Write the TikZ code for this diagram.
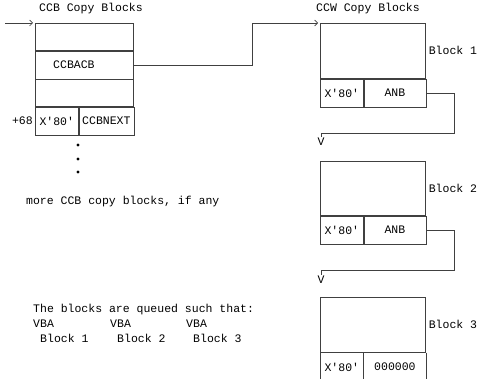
\documentclass[tikz,border=0pt]{standalone}
\usepackage{fontspec}
\setmainfont{Liberation Mono}[Ligatures=TeXOff]
\usetikzlibrary{positioning, arrows.meta}

\begin{document}
\begin{tikzpicture}[x=1pt, y=-1pt, font=\fontsize{11.5}{13}\selectfont]
\tikzstyle{cell}=[rectangle, draw=black!75, line width=0.6pt, inner sep=0pt, anchor=north west]
\tikzstyle{lbl}=[inner sep=1pt]
\tikzstyle{link}=[draw=black!75, line width=0.6pt]
\tikzstyle{tip}=[-{Straight Barb[length=3pt, width=6pt]}]
\useasboundingbox (0,0) rectangle (479,379);

% CCB copy block
\node[lbl, anchor=west] (ccbttl) at (38,9) {CCB Copy Blocks};
\node[cell, minimum width=98pt, minimum height=27pt] (ccb1) at (35,23) {};
\node[cell, minimum width=98pt, minimum height=28pt] (ccb2) at (ccb1.south west) {};
\node[cell, minimum width=98pt, minimum height=27pt] (ccb3) at (ccb2.south west) {};
\node[cell, minimum width=43pt, minimum height=28pt] (ccbx) at (ccb3.south west) {X'80'};
\node[cell, minimum width=55pt, minimum height=28pt] (ccbnext) at (ccbx.north east) {CCBNEXT};
\node[lbl, anchor=west] (acb) at ([xshift=17pt]ccb2.west) {CCBACB};
\node[lbl, anchor=east] (off) at ([xshift=-1pt]ccbx.west) {+68};

\coordinate (entry) at (5,23);
\draw[link, tip] (entry) -- ([xshift=-2pt]ccb1.north west);

\foreach \y/\n in {145/1, 159/2, 172/3}
  \fill (78,\y) circle (1.6pt) node (dot\n) {};
\node[lbl, anchor=west] (more) at (25,202) {more CCB copy blocks, if any};

% CCW copy blocks
\node[lbl, anchor=west] (ccwttl) at (315,9) {CCW Copy Blocks};

\node[cell, minimum width=105pt, minimum height=55pt] (b1up) at (320,23) {};
\node[cell, minimum width=43pt, minimum height=28pt] (b1x) at (b1up.south west) {X'80'};
\node[cell, minimum width=62pt, minimum height=28pt] (b1anb) at (b1x.north east) {ANB};
\node[lbl, anchor=west] (b1lbl) at ([xshift=2pt]b1up.east) {Block 1};
\node[lbl] (v1) at (321,142) {V};

\node[cell, minimum width=105pt, minimum height=54pt] (b2up) at (320,161) {};
\node[cell, minimum width=43pt, minimum height=28pt] (b2x) at (b2up.south west) {X'80'};
\node[cell, minimum width=62pt, minimum height=28pt] (b2anb) at (b2x.north east) {ANB};
\node[lbl, anchor=west] (b2lbl) at ([xshift=2pt]b2up.east) {Block 2};
\node[lbl] (v2) at (321,280) {V};

\node[cell, minimum width=105pt, minimum height=55pt] (b3up) at (320,297) {};
\node[cell, draw=none, minimum width=43pt, minimum height=28pt] (b3x) at (b3up.south west) {X'80'};
\node[cell, draw=none, minimum width=62pt, minimum height=28pt] (b3nul) at (b3x.north east) {000000};
\node[lbl, anchor=west] (b3lbl) at ([xshift=2pt]b3up.east) {Block 3};
\draw[link] (b3x.north west) -- (b3x.south west);
\draw[link] (b3x.north east) -- (b3x.south east);
\draw[link] (b3nul.north east) -- (b3nul.south east);

% chains
\draw[link, tip] (ccb2.east) -- ++(119,0) |- ([xshift=-2pt]b1up.north west);
\draw[link] (b1anb.east) -- ++(28,0) -- ++(0,40) -| (v1.north);
\draw[link] (b2anb.east) -- ++(28,0) -- ++(0,40) -| (v2.north);

% queue note
\node[lbl, anchor=west] (note) at (32,310) {The blocks are queued such that:};
\node[lbl, anchor=west] (vba1) at (32,324) {VBA};
\node[lbl, anchor=west] (vba2) at (109,324) {VBA};
\node[lbl, anchor=west] (vba3) at (185,324) {VBA};
\node[lbl, anchor=west] (q1) at (39,338) {Block 1};
\node[lbl, anchor=west] (q2) at (116,338) {Block 2};
\node[lbl, anchor=west] (q3) at (192,338) {Block 3};
\end{tikzpicture}
\end{document}
